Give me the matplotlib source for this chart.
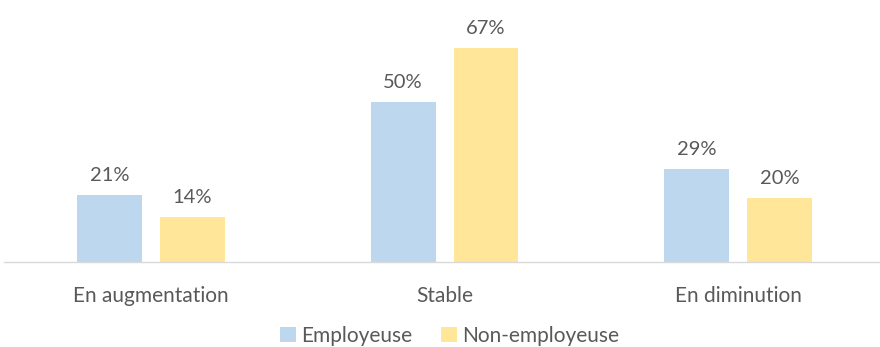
import matplotlib
matplotlib.use("Agg")
import matplotlib.pyplot as plt
import numpy as np

categories = ["En augmentation", "Stable", "En diminution"]
series_names = ["Employeuse", "Non-employeuse"]
employeuse = [21, 50, 29]
non_employeuse = [14, 67, 20]
colors = ["#BDD7EE", "#FFE699"]

plt.rcParams['font.family'] = ['Lato', 'DejaVu Sans']
fig = plt.figure(figsize=(8.8, 3.47), dpi=100)
ax = fig.add_axes([4.3/880, (347-262)/347, 880.5/880, 262/347])

x = np.arange(len(categories))
w = 0.221
off = 0.141
for vals, name, c, o in [(employeuse, series_names[0], colors[0], -off),
                         (non_employeuse, series_names[1], colors[1], off)]:
    bars = ax.bar(x + o, vals, width=w, color=c, label=name)
    for b, v in zip(bars, vals):
        ax.annotate(f"{v}%", (b.get_x() + b.get_width()/2, v), xytext=(0, 8),
                    textcoords="offset points", ha="center", va="bottom",
                    fontsize=14.5, color="#595959")

ax.set_xlim(-0.5, 2.5)
ax.set_ylim(0, 81.9)
ax.set_yticks([])
for s in ["top", "right", "left"]:
    ax.spines[s].set_visible(False)
ax.spines["bottom"].set_color("#D9D9D9")
ax.spines["bottom"].set_linewidth(1)
ax.set_xticks(x)
ax.set_xticklabels(categories, fontsize=15, color="#595959")
ax.tick_params(axis="x", length=0, pad=17)

fig.legend(loc="center", bbox_to_anchor=(0.511, (347-336)/347), ncol=2, frameon=False,
           fontsize=15, labelcolor="#595959", handlelength=0.75, handleheight=0.75,
           handletextpad=0.25, columnspacing=1.4)

fig.savefig("out.png", dpi=100)
